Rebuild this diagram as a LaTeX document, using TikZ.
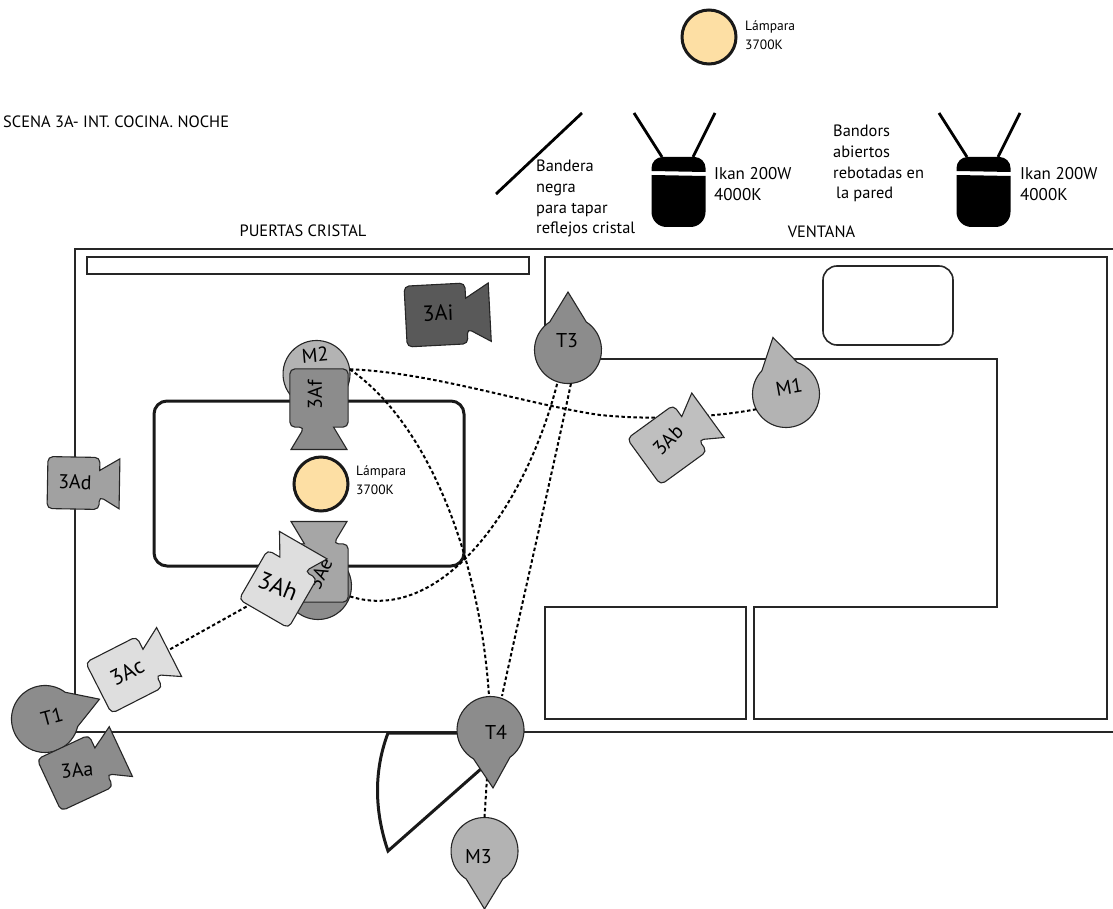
\documentclass[tikz,border=0pt]{standalone}
\usepackage{fontspec}
\setmainfont{PT Sans}
\definecolor{gristec}{HTML}{8C8C8C}
\definecolor{grismed}{HTML}{B3B3B3}
\definecolor{lampcol}{HTML}{FDDFA4}
\tikzset{
  camera/.pic={ % cuerpo y lente, la lente mira a la derecha
    \coordinate (-c) at (0,0);
    \draw[campath, pic actions] (-26pt,-26pt) -- (26pt,-26pt) -- (26pt,-13pt) [sharp corners] -- (46pt,-25pt) -- (46pt,25pt) -- (26pt,13pt) [rounded corners=5pt] -- (26pt,26pt) -- (-26pt,26pt) -- cycle;
  },
  tear/.pic={ % persona: circulo con punta a la derecha
    \node[circle, minimum size=67pt, inner sep=0pt] (-c) at (0,0) {};
    \draw[campath, sharp corners, pic actions] (58pt,0pt) -- (33:33.5pt) arc[start angle=33, end angle=327, radius=33.5pt] -- cycle;
  },
  ikan/.pic={ % foco con bandors
    \draw[flagline] (-20pt,60pt) -- (8pt,16pt);
    \draw[flagline] (61pt,60pt) -- (39pt,16pt);
    \fill (-2.5pt,2pt) [rounded corners=11pt] -- (-2.5pt,16pt) -- (51.5pt,16pt) [sharp corners] -- (51.5pt,1pt) -- cycle;
    \fill (-2.5pt,-2pt) -- (51.5pt,-3pt) [rounded corners=15pt] -- (51.5pt,-54pt) -- (-2.5pt,-54pt) [sharp corners] -- cycle;
  }
}
\begin{document}
\begin{tikzpicture}[x=1pt,y=-1pt]
\tikzstyle{campath} = [draw=black!85, line width=1.1pt, rounded corners=5pt] % contorno de camaras y personas
\tikzstyle{wall} = [draw=black!85, line width=1.6pt] % paredes y muebles
\tikzstyle{flagline} = [line width=2.8pt] % bandera y bandors
\tikzstyle{path} = [line width=2pt, dash pattern=on 3.5pt off 2.5pt] % recorrido punteado
\tikzstyle{lamp} = [circle, draw=black!90, line width=3pt, fill=lampcol, minimum size=54pt, inner sep=0pt] % lampara
\tikzstyle{txt} = [font=\fontsize{16.4}{20.6}\selectfont, align=left, inner sep=0pt] % textos
\tikzstyle{small} = [font=\fontsize{13.5}{19.5}\selectfont, align=left, inner sep=0pt] % texto de lampara
\tikzstyle{camlabel} = [font=\fontsize{20}{22}\selectfont, inner sep=0pt] % nombre de camara o persona
\useasboundingbox (0,0) rectangle (1113,909);

% habitacion
\draw[wall] (1113,249) -- (75,249) -- (75,732) -- (1113,732);
\draw[wall] (87,257) rectangle (529,274);
\draw[wall] (545,330) -- (545,257) -- (1107,257) -- (1107,719) -- (754,719) -- (754,607) -- (997,607) -- (997,359) -- (590,359);
\draw[wall] (545,607) rectangle (746,719);
\draw[wall, rounded corners=14pt] (823,266) rectangle (953,345);
\draw[line width=3pt, draw=black!90, rounded corners=13pt] (154,401) rectangle (464,566); % mesa

% puerta
\draw[line width=3pt, draw=black!90] (460,733) -- (388,733) .. controls (374,770) and (374,810) .. (388,851) -- (482,768);

% textos arriba
\node[txt, anchor=west] (titulo) at (3,122) {SCENA 3A- INT. COCINA. NOCHE};
\node[txt] (puertas) at (303,231) {PUERTAS CRISTAL};
\node[txt] (ventana) at (821.5,232) {VENTANA};
\node[lamp] (lamp1) at (709,37) {};
\node[small, anchor=west] (lamp1txt) at (745,35) {Lámpara\\3700K};
\coordinate (flag1) at (582,113);
\coordinate (flag2) at (496,194);
\draw[flagline] (flag1) -- (flag2);
\node[txt, anchor=north west] (bandera) at (536,160) {Bandera\\negra\\para tapar\\reflejos cristal};
\pic (ikan1) at (654,173) {ikan};
\pic (ikan2) at (959,173) {ikan};
\node[txt, anchor=west, font=\fontsize{17}{21}\selectfont] (ikan1txt) at (714,184) {Ikan 200W\\4000K};
\node[txt, anchor=west, font=\fontsize{17}{21}\selectfont] (ikan2txt) at (1020,184) {Ikan 200W\\4000K};
\node[txt, anchor=north west] (bandors) at (833,125) {Bandors\\abiertos\\rebotadas en\\\hspace{3pt}la pared};
\node[lamp] (lamp2) at (321,484) {};
\node[small, anchor=west] (lamp2txt) at (356,480) {Lámpara\\3700K};

% personas
\pic[fill=grismed, rotate=-90] (M2) at (316.5,374) {tear};
\pic[fill=gristec, rotate=90] (Ae) at (318,586) {tear};
\pic[fill=gristec, rotate=90] (T3) at (568,350) {tear};
\pic[fill=grismed, rotate=103] (M1) at (786,394) {tear};
\pic[fill=gristec, rotate=20] (T1) at (45,719) {tear};
\pic[fill=grismed, rotate=-90] (M3) at (484.5,851) {tear};

% recorridos
\draw[path] (M2-c.8) .. controls (430,372) and (530,405) .. (600,415) .. controls (650,420) and (710,418) .. (M1-c.207);
\draw[path] (M2-c.8) .. controls (430,425) and (480,560) .. (489,696);
\draw[path] (Ae-c.342) .. controls (440,625) and (525,510) .. (T3-c.252);
\draw[path] (T3-c.275) .. controls (555,460) and (525,590) .. (502,696);
\draw[path] (490,730) -- (M3-c.north);

\pic[fill=gristec, rotate=-87.5] (T4) at (490.5,730) {tear};

% camaras
\pic[fill=gristec, rotate=25, scale=1.1] (Aa) at (75,773) {camera};
\pic[fill=black!37, rotate=-1] (Ad) at (73.5,483) {camera};
\pic[fill=gristec, rotate=-90, scale=1.12] (Af) at (319,398) {camera};
\pic[fill=black!35, rotate=90, scale=1.12] (Aec) at (319,573) {camera};
\node[camlabel, rotate=65] (lAe) at (320,574) {3Ae};
\draw[path] (278,589) -- (124,675);
\pic[fill=black!13, rotate=60, scale=1.1] (Ah) at (278,589) {camera};
\pic[fill=black!13, rotate=27, scale=1.1] (Ac) at (124,675) {camera};
\pic[fill=black!25, rotate=36, scale=1.1] (Ab) at (667,445) {camera};
\pic[fill=black!65, rotate=3, scale=1.17] (Ai) at (436,315) {camera};

% nombres
\node[camlabel, rotate=10] (lM1) at (789,387) {M1};
\node[camlabel, rotate=5] (lM2) at (315,355) {M2};
\node[camlabel] (lM3) at (478.5,857) {M3};
\node[camlabel] (lT3) at (567,341) {T3};
\node[camlabel] (lT4) at (496,732) {T4};
\node[camlabel, rotate=15] (lT1) at (52,717) {T1};
\node[camlabel, rotate=5] (lAa) at (77,770) {3Aa};
\node[camlabel, rotate=27, font=\fontsize{22}{24}\selectfont] (lAc) at (127,672) {3Ac};
\node[camlabel, rotate=-2] (lAd) at (75,482) {3Ad};
\node[camlabel, rotate=90] (lAf) at (315,395) {3Af};
\node[camlabel, rotate=-22, font=\fontsize{24}{26}\selectfont] (lAh) at (278,586) {3Ah};
\node[camlabel, rotate=45] (lAb) at (668,440) {3Ab};
\node[camlabel, rotate=2, font=\fontsize{22}{24}\selectfont] (lAi) at (438,313) {3Ai};
\end{tikzpicture}
\end{document}
